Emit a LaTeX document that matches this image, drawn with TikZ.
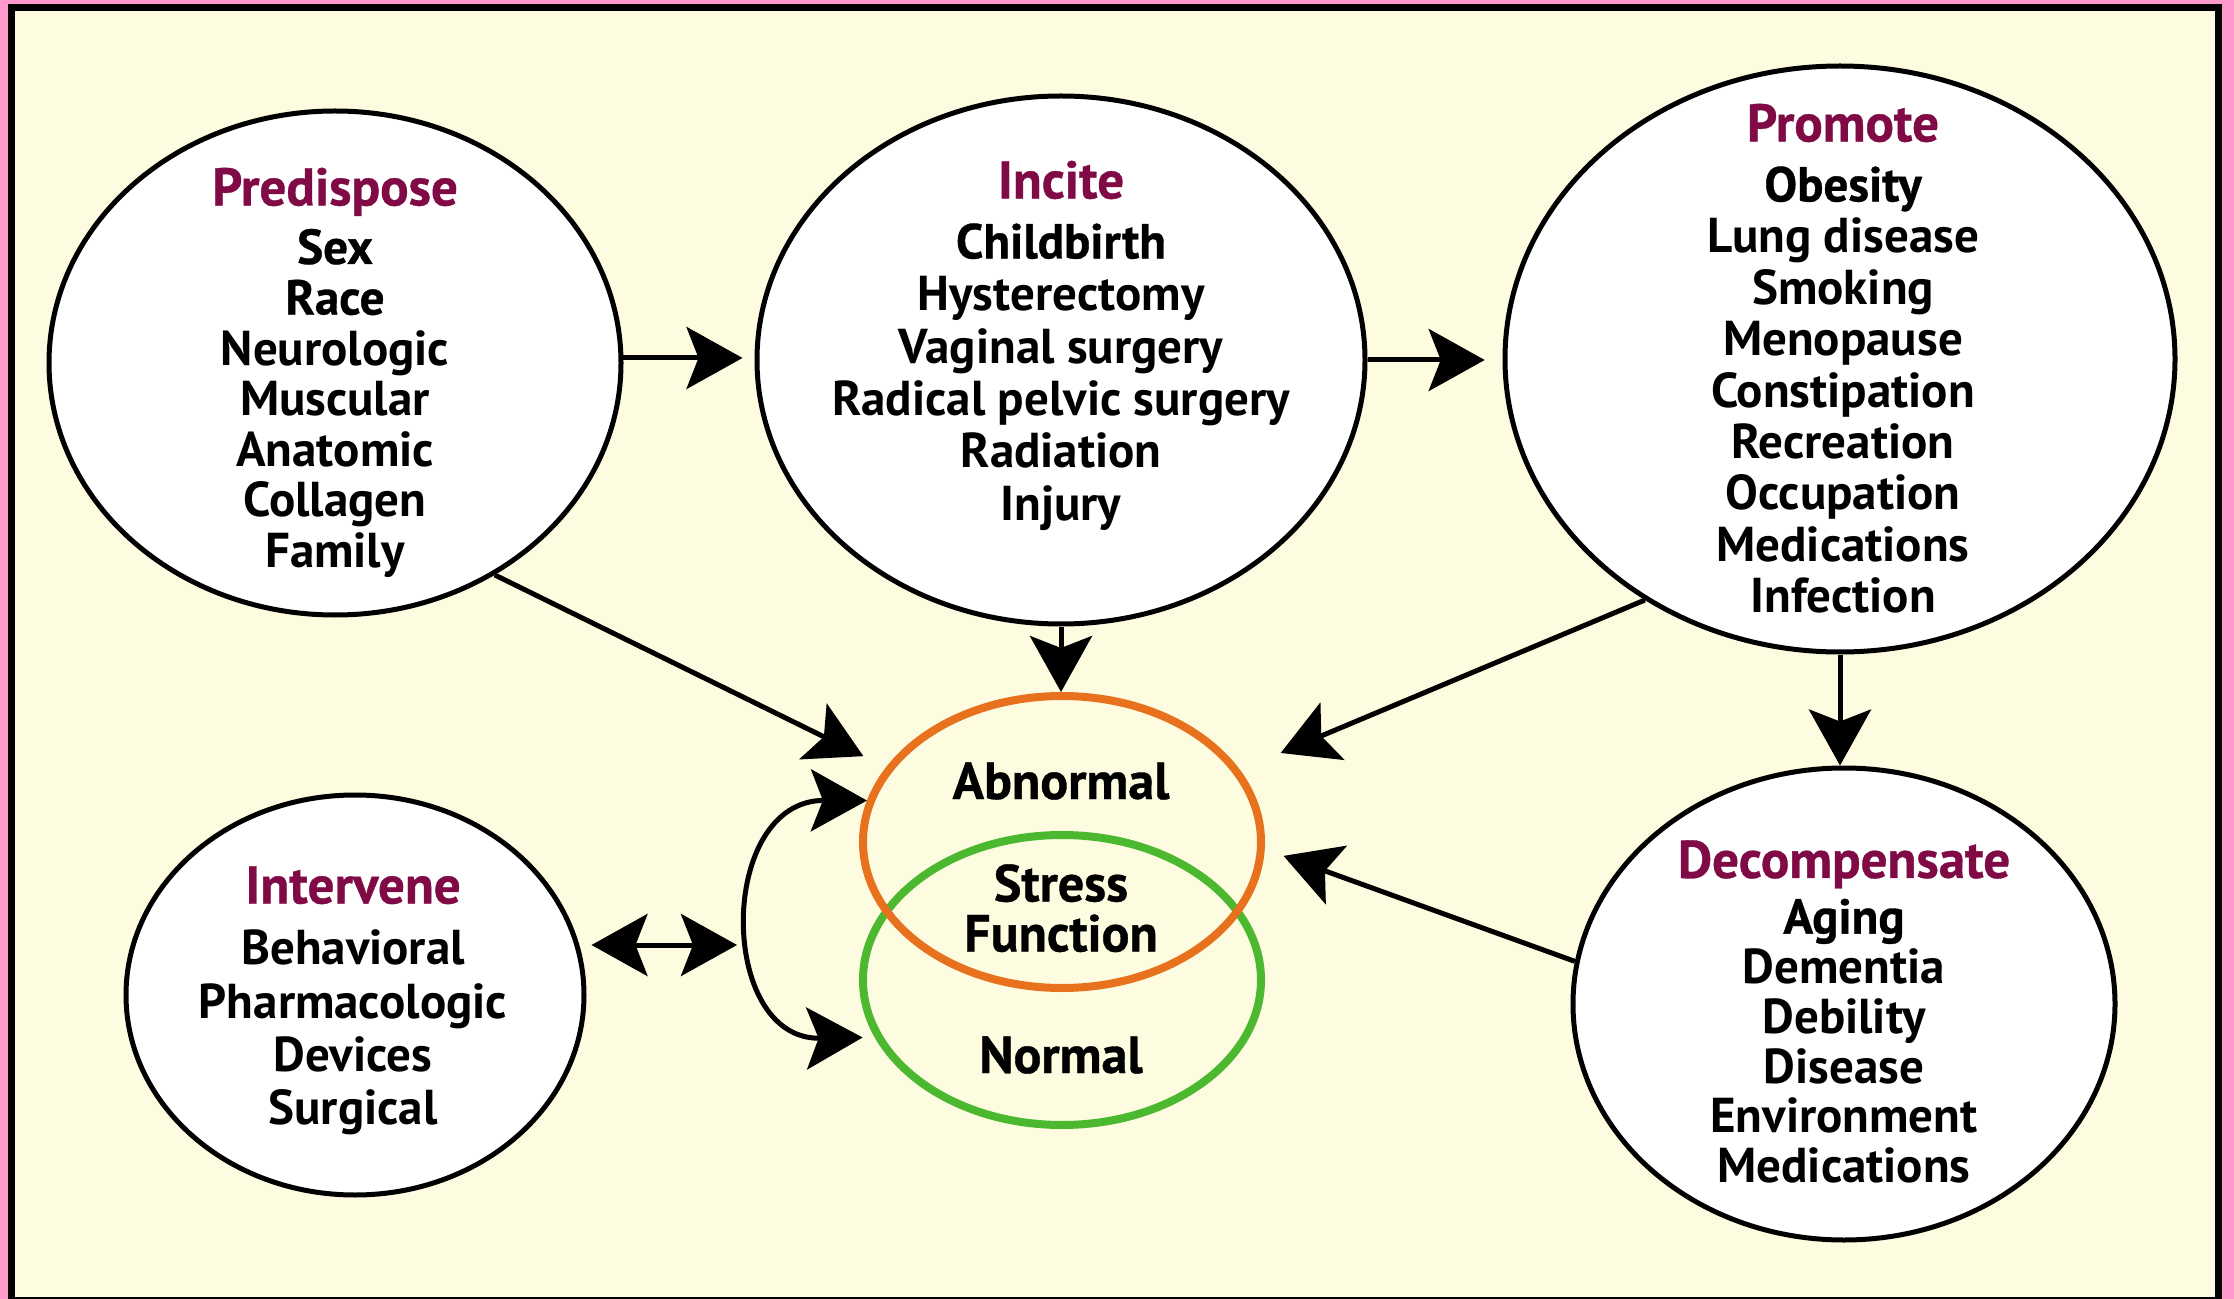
\documentclass[tikz,border=0pt]{standalone}
\usepackage{fontspec}
\setmainfont{PT Sans}
\newfontface\hvy[FakeBold=0.7]{PT Sans Bold}
\newfontface\med{PT Sans Bold}
\usetikzlibrary{arrows.meta,shapes.geometric}
\definecolor{cream}{HTML}{FDFCE0}
\definecolor{pinkb}{HTML}{FF99CC}
\definecolor{ttlc}{HTML}{7F0A45}
\definecolor{orng}{HTML}{E8711E}
\definecolor{grn}{HTML}{4CB830}
\tikzset{bigtip/.tip={Stealth[length=28pt,width=31pt,inset=6pt]}}
\newcommand\ttlline[1]{{\color{ttlc}\hvy\fontsize{26.5}{26.5}\selectfont\rule{0pt}{22pt}#1}}
\begin{document}
\begin{tikzpicture}[x=0.5pt,y=-0.5pt,
  bub/.style={ellipse, draw, line width=2.5pt, fill=white, inner sep=0pt},
  venn/.style={ellipse, draw, line width=4pt, inner sep=0pt},
  txt/.style={align=center, inner sep=0pt, anchor=north},
  vtxt/.style={inner sep=0pt, anchor=base, font=\hvy\fontsize{26}{26}\selectfont},
  arr/.style={line width=2.5pt, -bigtip},
  darr/.style={line width=2.5pt, bigtip-bigtip}]
\fill[pinkb] (0,0) rectangle (2234,1299);
\fill[black] (8,4) rectangle (2222,1299);
\fill[cream] (15,11) rectangle (2215,1297);
\useasboundingbox (0,0) rectangle (2234,1299);

% bubbles
\node[bub, minimum width=286pt, minimum height=252pt] (pred) at (335,363) {};
\node[bub, minimum width=304pt, minimum height=264pt] (inc) at (1061,360) {};
\node[bub, minimum width=335pt, minimum height=293pt] (prom) at (1840,359) {};
\node[bub, minimum width=229pt, minimum height=200pt] (int) at (355,995) {};
\node[bub, minimum width=271pt, minimum height=236pt] (dec) at (1844,1004) {};

% venn
\node[venn, draw=grn, minimum width=199pt, minimum height=145pt] (nrm) at (1062,980) {};
\node[venn, draw=orng, minimum width=199pt, minimum height=146pt] (abn) at (1062,842) {};

% texts
\node[txt, font=\med\fontsize{24.5}{25.3}\selectfont] (predT) at (335,161)
  {\ttlline{Predispose}\\[3.95pt] {\hvy Sex}\\ {\hvy Race}\\ Neurologic\\ Muscular\\ Anatomic\\ Collagen\\ Family};
\node[txt, font=\med\fontsize{24.5}{26.2}\selectfont] (incT) at (1061,154)
  {\ttlline{Incite}\\[3.8pt] {\hvy Childbirth}\\ Hysterectomy\\ Vaginal surgery\\ Radical pelvic surgery\\ Radiation\\ Injury};
\node[txt, font=\med\fontsize{24.5}{25.7}\selectfont] (promT) at (1843,97)
  {\ttlline{Promote}\\[4.3pt] {\hvy Obesity}\\ Lung disease\\ Smoking\\ Menopause\\ Constipation\\ Recreation\\ Occupation\\ Medications\\ Infection};
\node[txt, font=\med\fontsize{24.5}{26.6}\selectfont] (intT) at (353,859)
  {\ttlline{Intervene}\\[4.1pt] Behavioral\\ Pharmacologic\\ Devices\\ Surgical};
\node[txt, font=\med\fontsize{24.5}{24.9}\selectfont] (decT) at (1844,833.5)
  {\ttlline{Decompensate}\\[2.95pt] {\hvy Aging}\\ Dementia\\ Debility\\ Disease\\ Environment\\ Medications};

\node[vtxt] (abnT) at (1061,799) {Abnormal};
\node[txt, font=\hvy\fontsize{26}{25}\selectfont] (strT) at (1061,861) {\rule{0pt}{20pt}Stress\\ Function};
\node[vtxt] (nrmT) at (1061,1073) {Normal};

% connectors
\draw[arr, shorten >=6pt] (pred.1.4) -- (pred.1.4 -| inc.west);
\draw[arr, shorten >=8.9pt] (inc.0.75) -- (inc.0.75 -| prom.west);
\draw[arr, shorten >=12.6pt] (pred.-53.4) -- (abn.157.6);
\draw[arr] (inc.south) -- (inc.south |- abn.north);
\draw[arr, shorten >=22pt] (prom.231.4) -- (abn.22.5);
\draw[arr] (prom.south) -- (prom.south |- dec.north);
\draw[arr, shorten >=10pt] (dec.171.4) -- (abn.-2.9);
\coordinate (lp) at (737,945);
\draw[darr, shorten <=2.5pt] (lp -| int.east) -- (lp);
\draw[darr, shorten >=6pt] (abn.168.2) .. controls (717,800) and (717,1040) .. (nrm.197.5);
\end{tikzpicture}
\end{document}
